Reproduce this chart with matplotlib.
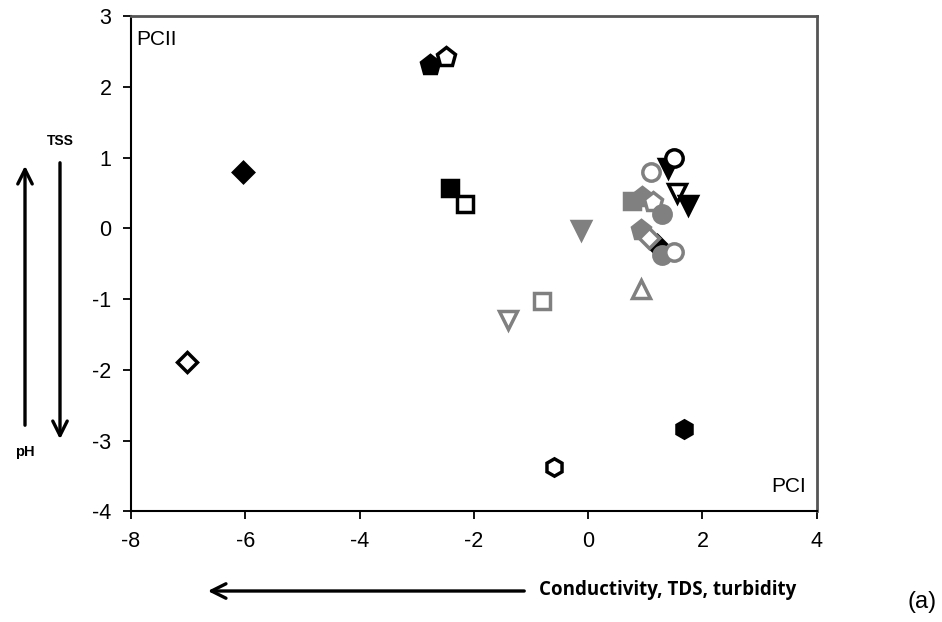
import numpy as np
import matplotlib
matplotlib.use("Agg")
import matplotlib.pyplot as plt

plt.rcParams['font.family'] = ['Liberation Sans', 'DejaVu Sans']
plt.rcParams['axes.unicode_minus'] = False

# PCA scores (PCI, PCII)
pc1 = [-2.77, -2.48, -6.04, -7.02, -2.42, -2.16, -0.13, -0.80, -1.41, 0.93,
       -0.59, 1.67, 1.40, 1.51, 1.10, 0.76, 0.95, 1.13, 1.30, 1.55, 1.74,
       0.93, 1.20, 1.07, 1.30, 1.51]
pc2 = [2.31, 2.42, 0.79, -1.89, 0.57, 0.34, -0.03, -1.02, -1.29, -0.86,
       -3.38, -2.83, 0.85, 0.99, 0.79, 0.38, 0.44, 0.37, 0.21, 0.50, 0.33,
       -0.03, -0.24, -0.14, -0.38, -0.34]
shapes = ['p', 'p', 'D', 'D', 's', 's', 'v', 's', 'v', '^',
          'h', 'h', 'v', 'o', 'o', 's', 'p', 'p', 'o', 'v', 'v',
          'p', 'D', 'D', 'o', 'o']
shade = ['k', 'k', 'k', 'k', 'k', 'k', 'g', 'g', 'g', 'g',
         'k', 'k', 'k', 'k', 'g', 'g', 'g', 'g', 'g', 'k', 'k',
         'g', 'k', 'g', 'g', 'g']
filled = [1, 0, 1, 0, 1, 0, 1, 0, 0, 0,
          0, 1, 1, 0, 0, 1, 1, 0, 1, 0, 1,
          1, 1, 0, 1, 0]

xticks = [-8, -6, -4, -2, 0, 2, 4]
yticks = [-4, -3, -2, -1, 0, 1, 2, 3]

fig = plt.figure(figsize=(9.42, 6.22), dpi=100)
ax = fig.add_axes([0.139, 0.178, 0.728, 0.796])

cmap = {'k': 'black', 'g': '#808080'}
sizes = {'p': 14, 'D': 10.5, 's': 11.5, 'v': 12.5, '^': 12.5, 'h': 12.5, 'o': 12.5}
for x, y, m, c, f in zip(pc1, pc2, shapes, shade, filled):
    col = cmap[c]
    ax.plot(x, y, marker=m, ms=sizes[m], mec=col, mew=2.5,
            mfc=col if f else 'white', ls='none')

ax.set_xlim(-8, 4)
ax.set_ylim(-4, 3)
ax.set_xticks(xticks)
ax.set_yticks(yticks)
ax.tick_params(direction='out', length=6, width=1.3, labelsize=15.5, pad=8)
for s in ['left', 'bottom']:
    ax.spines[s].set_color('black')
    ax.spines[s].set_linewidth(1.5)
for s in ['top', 'right']:
    ax.spines[s].set_color('#555555')
    ax.spines[s].set_linewidth(2)

ax.text(0.008, 0.972, 'PCII', transform=ax.transAxes, fontsize=15, va='top', ha='left')
ax.text(0.985, 0.03, 'PCI', transform=ax.transAxes, fontsize=15, va='bottom', ha='right')

# loading arrows outside the axes (figure pixel coords -> fractions)
W, H = 942, 622
def fp(px, py):
    return (px / W, 1 - py / H)

arr = dict(arrowstyle='->', lw=2.4, color='black', mutation_scale=26)
fig.patches.append(matplotlib.patches.FancyArrowPatch(fp(25, 428), fp(25, 163), transform=fig.transFigure, **arr))
fig.patches.append(matplotlib.patches.FancyArrowPatch(fp(60, 160), fp(60, 442), transform=fig.transFigure, **arr))
fig.patches.append(matplotlib.patches.FancyArrowPatch(fp(527, 591), fp(205, 591), transform=fig.transFigure, **arr))

fig.text(*fp(60, 141), 'TSS', fontsize=10, fontweight='bold', ha='center', va='center')
fig.text(*fp(25, 452), 'pH', fontsize=10.5, fontweight='bold', ha='center', va='center')
fig.text(*fp(539, 590), 'Conductivity, TDS, turbidity', fontsize=13.5, fontweight='bold',
         family=['Open Sans', 'DejaVu Sans'], ha='left', va='center')
fig.text(*fp(922, 602), '(a)', fontsize=17, ha='center', va='center')

fig.savefig('out.png', dpi=100)
